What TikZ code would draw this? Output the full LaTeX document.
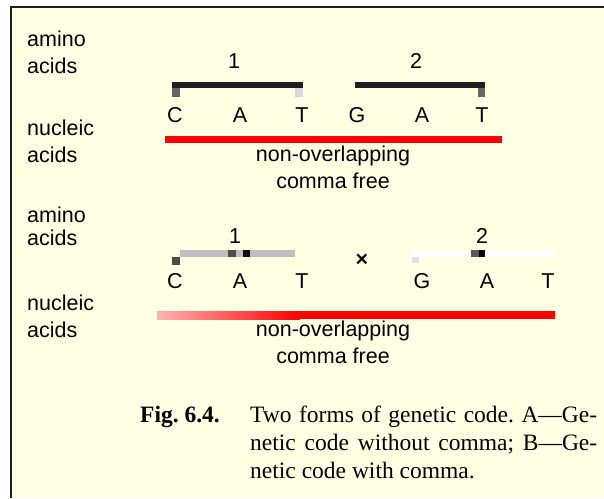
\documentclass[tikz,border=0pt]{standalone}
\usepackage{fontspec}
\setmainfont{Liberation Serif}
\setsansfont{Liberation Sans}
\frenchspacing

\definecolor{paper}{HTML}{FFFFE3}
\definecolor{framegray}{HTML}{1E1E1E}
\definecolor{codered}{HTML}{FF0000}

\newcommand*{\lblfont}{\sffamily\fontsize{21.5}{26.5}\selectfont}
\newcommand*{\capfont}{\fontsize{23.5}{28}\selectfont}
\newcommand*{\topy}{122}
\newcommand*{\boty}{288}

\begin{document}
\begin{tikzpicture}
[
	x=1pt,y=-1pt,
	lbl/.style={font=\lblfont,inner sep=0pt,anchor=base},
	side/.style={font=\lblfont,inner sep=0pt,anchor=base west,align=left},
	note/.style={font=\lblfont,inner sep=0pt,anchor=base,align=center},
]
	\useasboundingbox (0,0) rectangle (604,498);

	% frame
	\fill[paper] (11,7) rectangle (604,498);
	\draw[framegray,line width=1.5pt] (11,498) -- (11,7) -- (604,7);

	% side labels (base = last line)
	\node[side] (aminoA) at (27,73) {amino\\acids};
	\node[side] (nucleicA) at (27,162) {nucleic\\acids};
	\node[side] (aminoB) at (27,245) {amino\\[-3.5pt]acids};
	\node[side] (nucleicB) at (27,337) {nucleic\\acids};

	% A: code without comma
	\foreach \x/\b [count=\i] in {175/C,240/A,302/T,357/G,422/A,482/T}
		\node[lbl] (ta\i) at (\x,\topy) {\b};
	\node[lbl] (na1) at (234,68) {1};
	\node[lbl] (na2) at (416,68) {2};
	\fill[black!88] (172,82) rectangle (303,88);
	\fill[black!60] (172,88) rectangle (180,97);
	\fill[black!15] (295,88) rectangle (303,97);
	\fill[black!88] (355,82) rectangle (485,88);
	\fill[black!60] (478,88) rectangle (485,97);
	\fill[codered] (165,136) rectangle (502,143);
	\node[note] (ra) at (333,188) {non-overlapping\\comma free};

	% B: code with comma
	\foreach \x/\b [count=\i] in {175/C,240/A,302/T,422/G,487/A,548/T}
		\node[lbl] (tb\i) at (\x,\boty) {\b};
	\node[lbl] (nb1) at (235,243) {1};
	\node[lbl] (nb2) at (482,243) {2};
	\node[font=\lblfont\bfseries,inner sep=0pt] (comma) at (362,260) {×};
	\fill[black!25] (180,250) rectangle (295,257);
	\fill[black!70] (228,250) rectangle (236,257);
	\fill[black!95] (243,250) rectangle (250,257);
	\fill[black!70] (172,257) rectangle (180,265);
	\fill[white] (412,250) rectangle (555,257);
	\fill[black!65] (471,250) rectangle (479,257);
	\fill[black] (479,250) rectangle (485,257);
	\fill[black!12] (412,257) rectangle (419,263);
	\shade[left color=red!30,right color=codered] (157,311) rectangle (300,319);
	\fill[codered] (300,311) rectangle (555,319);
	\node[note] (rb) at (333,363) {non-overlapping\\comma free};

	% caption
	\node[font=\capfont\bfseries,inner sep=0pt,anchor=base west] (fig) at (140,422) {Fig. 6.4.};
	\node[font=\capfont,inner sep=0pt,anchor=base west,text width=347pt,align=justify] (cap) at (250,422)
		{Two forms of genetic code. A---Ge-\linebreak netic code without comma; B---Ge-\linebreak netic code with comma.};

\end{tikzpicture}
\end{document}
